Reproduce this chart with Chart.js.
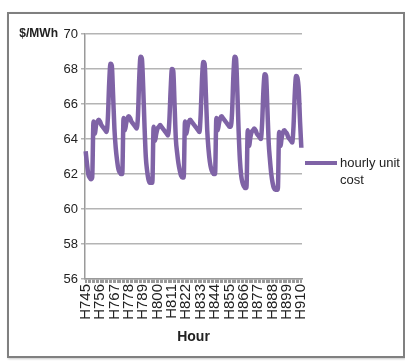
<!DOCTYPE html>
<html>
<head>
<meta charset="utf-8">
<title>Hourly unit cost</title>
<script src="https://cdn.jsdelivr.net/npm/chart.js@4.4.0/dist/chart.umd.min.js"></script>
<style>
    body { margin: 0; background: #fff; }
    #wrap { position: relative; width: 405px; height: 362px; }
    #frame {
        position: absolute; left: 7px; top: 12px; width: 394px; height: 342px;
        border: 2px solid #808080; box-shadow: 1px 1px 2px #c8c8c8;
    }
    #costChart { position: absolute; left: 0; top: 0; }
</style>
</head>
<body>
<div id="wrap">
    <div id="frame"></div>
    <canvas id="costChart" width="405" height="362"></canvas>
</div>
<script>
// Categories: hours H745 .. H910
const hours = [];
for (let h = 745; h <= 910; h++) hours.push('H' + h);

// hourly unit cost, $/MWh
const unitCost = [
    63.3, 62.6, 62.0, 61.8, 61.7, 61.8,
    65.0, 64.3, 64.8, 65.0, 65.1, 65.0, 64.8, 64.7, 64.6, 64.5, 64.4, 65.2,
    67.2, 68.3, 68.2, 66.5, 64.6, 63.5, 62.8, 62.3, 62.1, 62.0, 62.0,
    65.2, 64.5, 64.9, 65.2, 65.3, 65.2, 65.0, 64.9, 64.8, 64.7, 64.6, 65.3,
    67.5, 68.7, 68.6, 67.0, 64.8, 63.0, 62.2, 61.7, 61.5, 61.5, 61.5,
    64.7, 63.9, 64.3, 64.6, 64.7, 64.8, 64.7, 64.6, 64.5, 64.4, 64.3, 64.2,
    65.0, 66.8, 68.0, 67.9, 66.0, 64.0, 63.2, 62.6, 62.2, 61.9, 61.8, 61.8,
    65.0, 64.3, 64.7, 65.0, 65.1, 65.0, 64.9, 64.8, 64.7, 64.6, 64.5, 64.4,
    65.4, 67.4, 68.4, 68.3, 66.5, 64.5, 63.4, 62.7, 62.3, 62.1, 62.0, 62.0,
    65.2, 64.5, 64.9, 65.2, 65.3, 65.2, 65.1, 65.0, 64.9, 64.8, 64.7, 64.7,
    65.5, 67.6, 68.7, 68.6, 66.8, 64.5, 62.8, 61.9, 61.5, 61.3, 61.2, 61.2,
    64.5, 63.6, 64.1, 64.4, 64.5, 64.6, 64.5, 64.3, 64.2, 64.1, 64.0, 64.9,
    66.8, 67.7, 67.6, 65.8, 63.8, 62.8, 62.0, 61.5, 61.2, 61.1, 61.1, 61.1,
    64.4, 63.6, 64.1, 64.4, 64.5, 64.4, 64.3, 64.1, 64.0, 63.9, 63.8, 64.7,
    66.6, 67.6, 67.5, 66.8, 65.0, 63.5
];

// y axis range and the step between tick labels on x
const yTicks = { min: 56, max: 70, step: 2 };
const labelEvery = 11;

const purple = '#7f63a6';
const gridGrey = '#b4b4b4';
const textColor = '#222';

// "$/MWh" written beside the top tick, and a two line legend on the right
const extraText = {
    id: 'extraText',
    afterDraw(chart) {
        const c = chart.ctx;
        const area = chart.chartArea;
        c.save();
        c.fillStyle = textColor;
        c.font = 'bold 12px "Liberation Sans", Arial, sans-serif';
        c.textAlign = 'right';
        c.textBaseline = 'middle';
        c.fillText('$/MWh', area.left - 27, area.top);

        const ly = 163;
        c.strokeStyle = purple;
        c.lineWidth = 4;
        c.beginPath();
        c.moveTo(area.right + 3, ly);
        c.lineTo(area.right + 35, ly);
        c.stroke();
        c.font = '13px "Liberation Sans", Arial, sans-serif';
        c.textAlign = 'left';
        c.fillText('hourly unit', area.right + 38, ly);
        c.fillText('cost', area.right + 38, ly + 17);
        c.restore();
    }
};

const ctx = document.getElementById('costChart');

new Chart(ctx, {
    type: 'line',
    data: {
        labels: hours,
        datasets: [{
            label: 'hourly unit cost',
            data: unitCost,
            borderColor: purple,
            borderWidth: 4.5,
            pointRadius: 0,
            cubicInterpolationMode: 'monotone',
            fill: false
        }]
    },
    options: {
        responsive: false,
        animation: false,
        layout: { padding: { left: 0, top: 34, right: 103, bottom: 14 } },
        scales: {
            x: {
                offset: true,
                afterFit(scale) { scale.height = 69; },
                grid: {
                    drawOnChartArea: false,
                    tickLength: 4,
                    color: '#9a9a9a'
                },
                border: { color: '#9a9a9a', width: 1.5 },
                ticks: {
                    autoSkip: false,
                    minRotation: 90,
                    maxRotation: 90,
                    padding: 1,
                    color: textColor,
                    font: { family: '"Liberation Sans", Arial, sans-serif', size: 15 },
                    callback: function(val, idx) {
                        return idx % labelEvery === 0 ? this.getLabelForValue(val) : '';
                    }
                },
                title: {
                    display: true,
                    text: 'Hour',
                    color: textColor,
                    padding: { top: 0, bottom: 2 },
                    font: { family: '"Liberation Sans", Arial, sans-serif', size: 14, weight: 'bold' }
                }
            },
            y: {
                min: yTicks.min,
                max: yTicks.max,
                afterFit(scale) { scale.width = 85; },
                grid: { color: gridGrey, lineWidth: 1.5, tickLength: 4 },
                border: { color: '#9a9a9a', width: 1.5 },
                ticks: {
                    stepSize: yTicks.step,
                    padding: 3,
                    color: textColor,
                    font: { family: '"Liberation Sans", Arial, sans-serif', size: 13 }
                }
            }
        },
        plugins: {
            legend: { display: false },
            tooltip: { enabled: false }
        }
    },
    plugins: [extraText]
});
</script>
</body>
</html>
